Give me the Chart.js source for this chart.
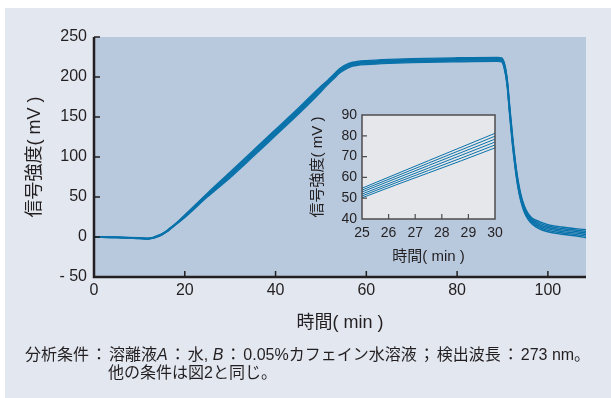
<!DOCTYPE html>
<html lang="ja">
<head>
<meta charset="utf-8">
<script src="https://cdn.jsdelivr.net/npm/chart.js@4"></script>
<style>
  body { margin: 0; background: #fff; }
  #wrap { position: relative; width: 611px; height: 398px; font-family: 'Liberation Sans', 'Noto Sans CJK JP', sans-serif; color: #231f20; }
  #panel { position: absolute; left: 5px; top: 8px; width: 606px; height: 390px; background: #e2e7f0; }
  #main { position: absolute; left: 0; top: 0; }
  #inset { position: absolute; left: 300px; top: 100px; }
  #caption { position: absolute; left: 25px; top: 346px; font-size: 16px; line-height: 18px; white-space: nowrap; }
  #caption .sep { margin: 0 2px; }
  #caption .l2 { padding-left: 83px; }
</style>
</head>
<body>
<div id="wrap">
  <div id="panel"></div>
  <canvas id="main" width="611" height="398"></canvas>
  <canvas id="inset" width="210" height="170"></canvas>
  <div id="caption">
    <div>分析条件<span class="sep">：</span>溶離液<i>A</i><span class="sep">：</span>水, <i>B</i><span class="sep">：</span>0.05%カフェイン水溶液<span class="sep">；</span>検出波長<span class="sep">：</span>273 nm。</div>
    <div class="l2">他の条件は図2と同じ。</div>
  </div>
</div>
<script>
// retention time (min) shared by all runs
const times = [0, 5, 10, 12, 13, 14, 15, 16, 17, 18,
  20, 25, 30, 35, 40, 45, 50,
  51, 52, 53, 54, 55, 56, 57, 58,
  60, 65, 70, 80, 89, 89.8,
  90.4, 91, 91.6, 92.2, 92.8, 93.4, 94, 94.8, 95.6, 96.5,
  98, 100, 103, 106, 108.5];

// detector signal (mV) of the six repeated runs
const run1 = [-0.3, -0.8, -2.0, -2.5, -1.5, 0.3, 2.8, 6.3, 10.8, 15.3,
  24.5, 50.2, 74.2, 100.3, 126.8, 153.3, 181.5,
  187.8, 193.3, 198.8, 204.3, 208.3, 211.3, 213.5, 214.5,
  215.5, 217, 218, 219, 219.5, 219,
  210.3, 190, 150.8, 114.8, 85.5, 62, 45.5, 31, 22.3, 16.3,
  10.5, 6.5, 3.5, 1.5, -1];
const run2 = [-0.2, -0.7, -1.8, -2.3, -1.3, 0.6, 3.1, 6.6, 11.1, 15.6,
  25.1, 51.1, 75.6, 101.8, 128.3, 154.8, 182.9,
  188.9, 194.4, 199.9, 205.4, 209.4, 212.4, 214.5, 215.5,
  216.5, 218, 219, 220, 220.5, 220,
  211.8, 192, 153.3, 117.3, 87.7, 64, 47.3, 32.6, 23.8, 17.8,
  12.3, 8.3, 5.3, 3.3, 1];
const run3 = [-0.1, -0.6, -1.6, -2.1, -1.1, 0.9, 3.4, 6.9, 11.4, 15.9,
  25.7, 52.0, 77.0, 103.3, 129.8, 156.3, 184.3,
  190.0, 195.5, 201.0, 206.5, 210.5, 213.5, 215.5, 216.5,
  217.5, 219, 220, 221, 221.5, 221,
  213.3, 194, 155.8, 119.8, 89.9, 66, 49.1, 34.2, 25.3, 19.3,
  14.1, 10.1, 7.1, 5.1, 3];
const run4 = [0.1, -0.4, -1.4, -1.9, -0.9, 1.2, 3.7, 7.2, 11.7, 16.2,
  26.3, 53.0, 78.4, 104.8, 131.3, 157.8, 185.7,
  191.1, 196.6, 202.1, 207.6, 211.6, 214.6, 216.5, 217.5,
  218.5, 220, 221, 222, 222.5, 222,
  214.8, 196, 158.3, 122.3, 92.1, 68, 50.9, 35.8, 26.8, 20.8,
  15.9, 11.9, 8.9, 6.9, 5];
const run5 = [0.2, -0.3, -1.2, -1.7, -0.7, 1.5, 4.0, 7.5, 12.0, 16.5,
  26.9, 53.9, 79.8, 106.3, 132.8, 159.3, 187.1,
  192.2, 197.7, 203.2, 208.7, 212.7, 215.7, 217.5, 218.5,
  219.5, 221, 222, 223, 223.5, 223,
  216.3, 198, 160.8, 124.8, 94.3, 70, 52.7, 37.4, 28.3, 22.3,
  17.7, 13.7, 10.7, 8.7, 7];
const run6 = [0.3, -0.2, -1.0, -1.5, -0.5, 1.8, 4.3, 7.8, 12.3, 16.8,
  27.5, 54.8, 81.2, 107.8, 134.3, 160.8, 188.5,
  193.3, 198.8, 204.3, 209.8, 213.8, 216.8, 218.5, 219.5,
  220.5, 222, 223, 224, 224.5, 224,
  217.8, 200, 163.3, 127.3, 96.5, 72, 54.5, 39, 29.8, 23.8,
  19.5, 15.5, 12.5, 10.5, 9];

const runs = [run1, run2, run3, run4, run5, run6];

// axis ticks
const mainXTicks = [0, 20, 40, 60, 80, 100];
const mainYTicks = [-50, 0, 50, 100, 150, 200, 250];
const insetXTicks = [25, 26, 27, 28, 29, 30];
const insetYTicks = [40, 50, 60, 70, 80, 90];

const ink = '#231f20';
const lineColor = '#0a72aa';

Chart.defaults.font.family = "'Liberation Sans', 'Noto Sans CJK JP', sans-serif";
Chart.defaults.color = ink;

function makeDatasets(width) {
    return runs.map((vals, i) => ({
        label: 'run ' + (i + 1),
        data: times.map((t, j) => ({ x: t, y: vals[j] })),
        borderColor: lineColor,
        borderWidth: width,
        pointRadius: 0,
        fill: false,
        cubicInterpolationMode: 'monotone'
    }));
}

// plot background, axis lines and inward tick marks
function framePlugin(o) {
    return {
        id: 'frame',
        beforeDatasetsDraw(chart) {
            const { ctx, chartArea: a } = chart;
            ctx.save();
            ctx.fillStyle = o.bg;
            ctx.fillRect(a.left, a.top, a.right - a.left, a.bottom - a.top);
            ctx.restore();
        },
        afterDatasetsDraw(chart) {
            const { ctx, chartArea: a, scales } = chart;
            ctx.save();
            ctx.strokeStyle = o.axisColor;
            ctx.lineWidth = o.tickWidth;
            ctx.beginPath();
            o.yTicks.forEach(v => {
                const y = scales.y.getPixelForValue(v);
                ctx.moveTo(a.left, y);
                ctx.lineTo(a.left + o.tickLen, y);
            });
            o.xTicks.forEach(v => {
                const x = scales.x.getPixelForValue(v);
                ctx.moveTo(x, a.bottom);
                ctx.lineTo(x, a.bottom - o.tickLen);
            });
            ctx.stroke();
            ctx.lineWidth = o.axisWidth;
            ctx.beginPath();
            if (o.box) {
                ctx.rect(a.left, a.top, a.right - a.left, a.bottom - a.top);
            } else {
                ctx.moveTo(a.left, a.top);
                ctx.lineTo(a.left, a.bottom);
                ctx.lineTo(a.right, a.bottom);
            }
            ctx.stroke();
            ctx.restore();
        }
    };
}

function fixedTicks(values) {
    return scale => { scale.ticks = values.map(v => ({ value: v })); };
}

const mainChart = new Chart(document.getElementById('main'), {
    type: 'line',
    data: { datasets: makeDatasets(1.4) },
    options: {
        responsive: false,
        animation: false,
        layout: { padding: { left: 0, top: 37, right: 25, bottom: 0 } },
        plugins: { legend: { display: false }, tooltip: { enabled: false } },
        scales: {
            x: {
                type: 'linear', min: 0, max: 108.4,
                afterBuildTicks: fixedTicks(mainXTicks),
                afterFit: s => { s.height = 121; },
                grid: { display: false, drawTicks: false },
                border: { display: false },
                ticks: { padding: 4, font: { size: 16 }, maxRotation: 0 },
                title: { display: true, text: '時間( min )', font: { size: 18 }, padding: { top: 0, bottom: 64 } }
            },
            y: {
                min: -50, max: 250,
                afterBuildTicks: fixedTicks(mainYTicks),
                afterFit: s => { s.width = 94; },
                grid: { display: false, drawTicks: false },
                border: { display: false },
                ticks: { padding: 7, font: { size: 16 }, callback: v => v < 0 ? '- ' + Math.abs(v) : v },
                title: { display: true, text: '信号強度( mV )', font: { size: 18 }, padding: { top: 24, bottom: 0 } }
            }
        }
    },
    plugins: [framePlugin({ bg: '#b8c9de', axisColor: ink, axisWidth: 2.5, tickWidth: 1.5, tickLen: 6,
        xTicks: mainXTicks.slice(1), yTicks: mainYTicks, box: false })]
});

// enlarged view of 25-30 min
const insetChart = new Chart(document.getElementById('inset'), {
    type: 'line',
    data: { datasets: makeDatasets(1) },
    options: {
        responsive: false,
        animation: false,
        layout: { padding: { left: 0, top: 15, right: 15, bottom: 0 } },
        plugins: { legend: { display: false }, tooltip: { enabled: false } },
        scales: {
            x: {
                type: 'linear', min: 25, max: 30,
                afterBuildTicks: fixedTicks(insetXTicks),
                afterFit: s => { s.height = 51; },
                grid: { display: false, drawTicks: false },
                border: { display: false },
                ticks: { padding: 6, font: { size: 14 }, maxRotation: 0 },
                title: { display: true, text: '時間( min )', font: { size: 15 }, padding: { top: 0, bottom: 4 } }
            },
            y: {
                min: 40, max: 90,
                afterBuildTicks: fixedTicks(insetYTicks),
                afterFit: s => { s.width = 62; },
                grid: { display: false, drawTicks: false },
                border: { display: false },
                ticks: { padding: 5, font: { size: 14 } },
                title: { display: true, text: '信号強度( mV )', font: { size: 15 }, padding: { top: 9, bottom: 0 } }
            }
        }
    },
    plugins: [framePlugin({ bg: '#e6e7ea', axisColor: '#4d4d4f', axisWidth: 1.5, tickWidth: 1.2, tickLen: 5,
        xTicks: insetXTicks.slice(1, -1), yTicks: insetYTicks.slice(1, -1), box: true })]
});
</script>
</body>
</html>
